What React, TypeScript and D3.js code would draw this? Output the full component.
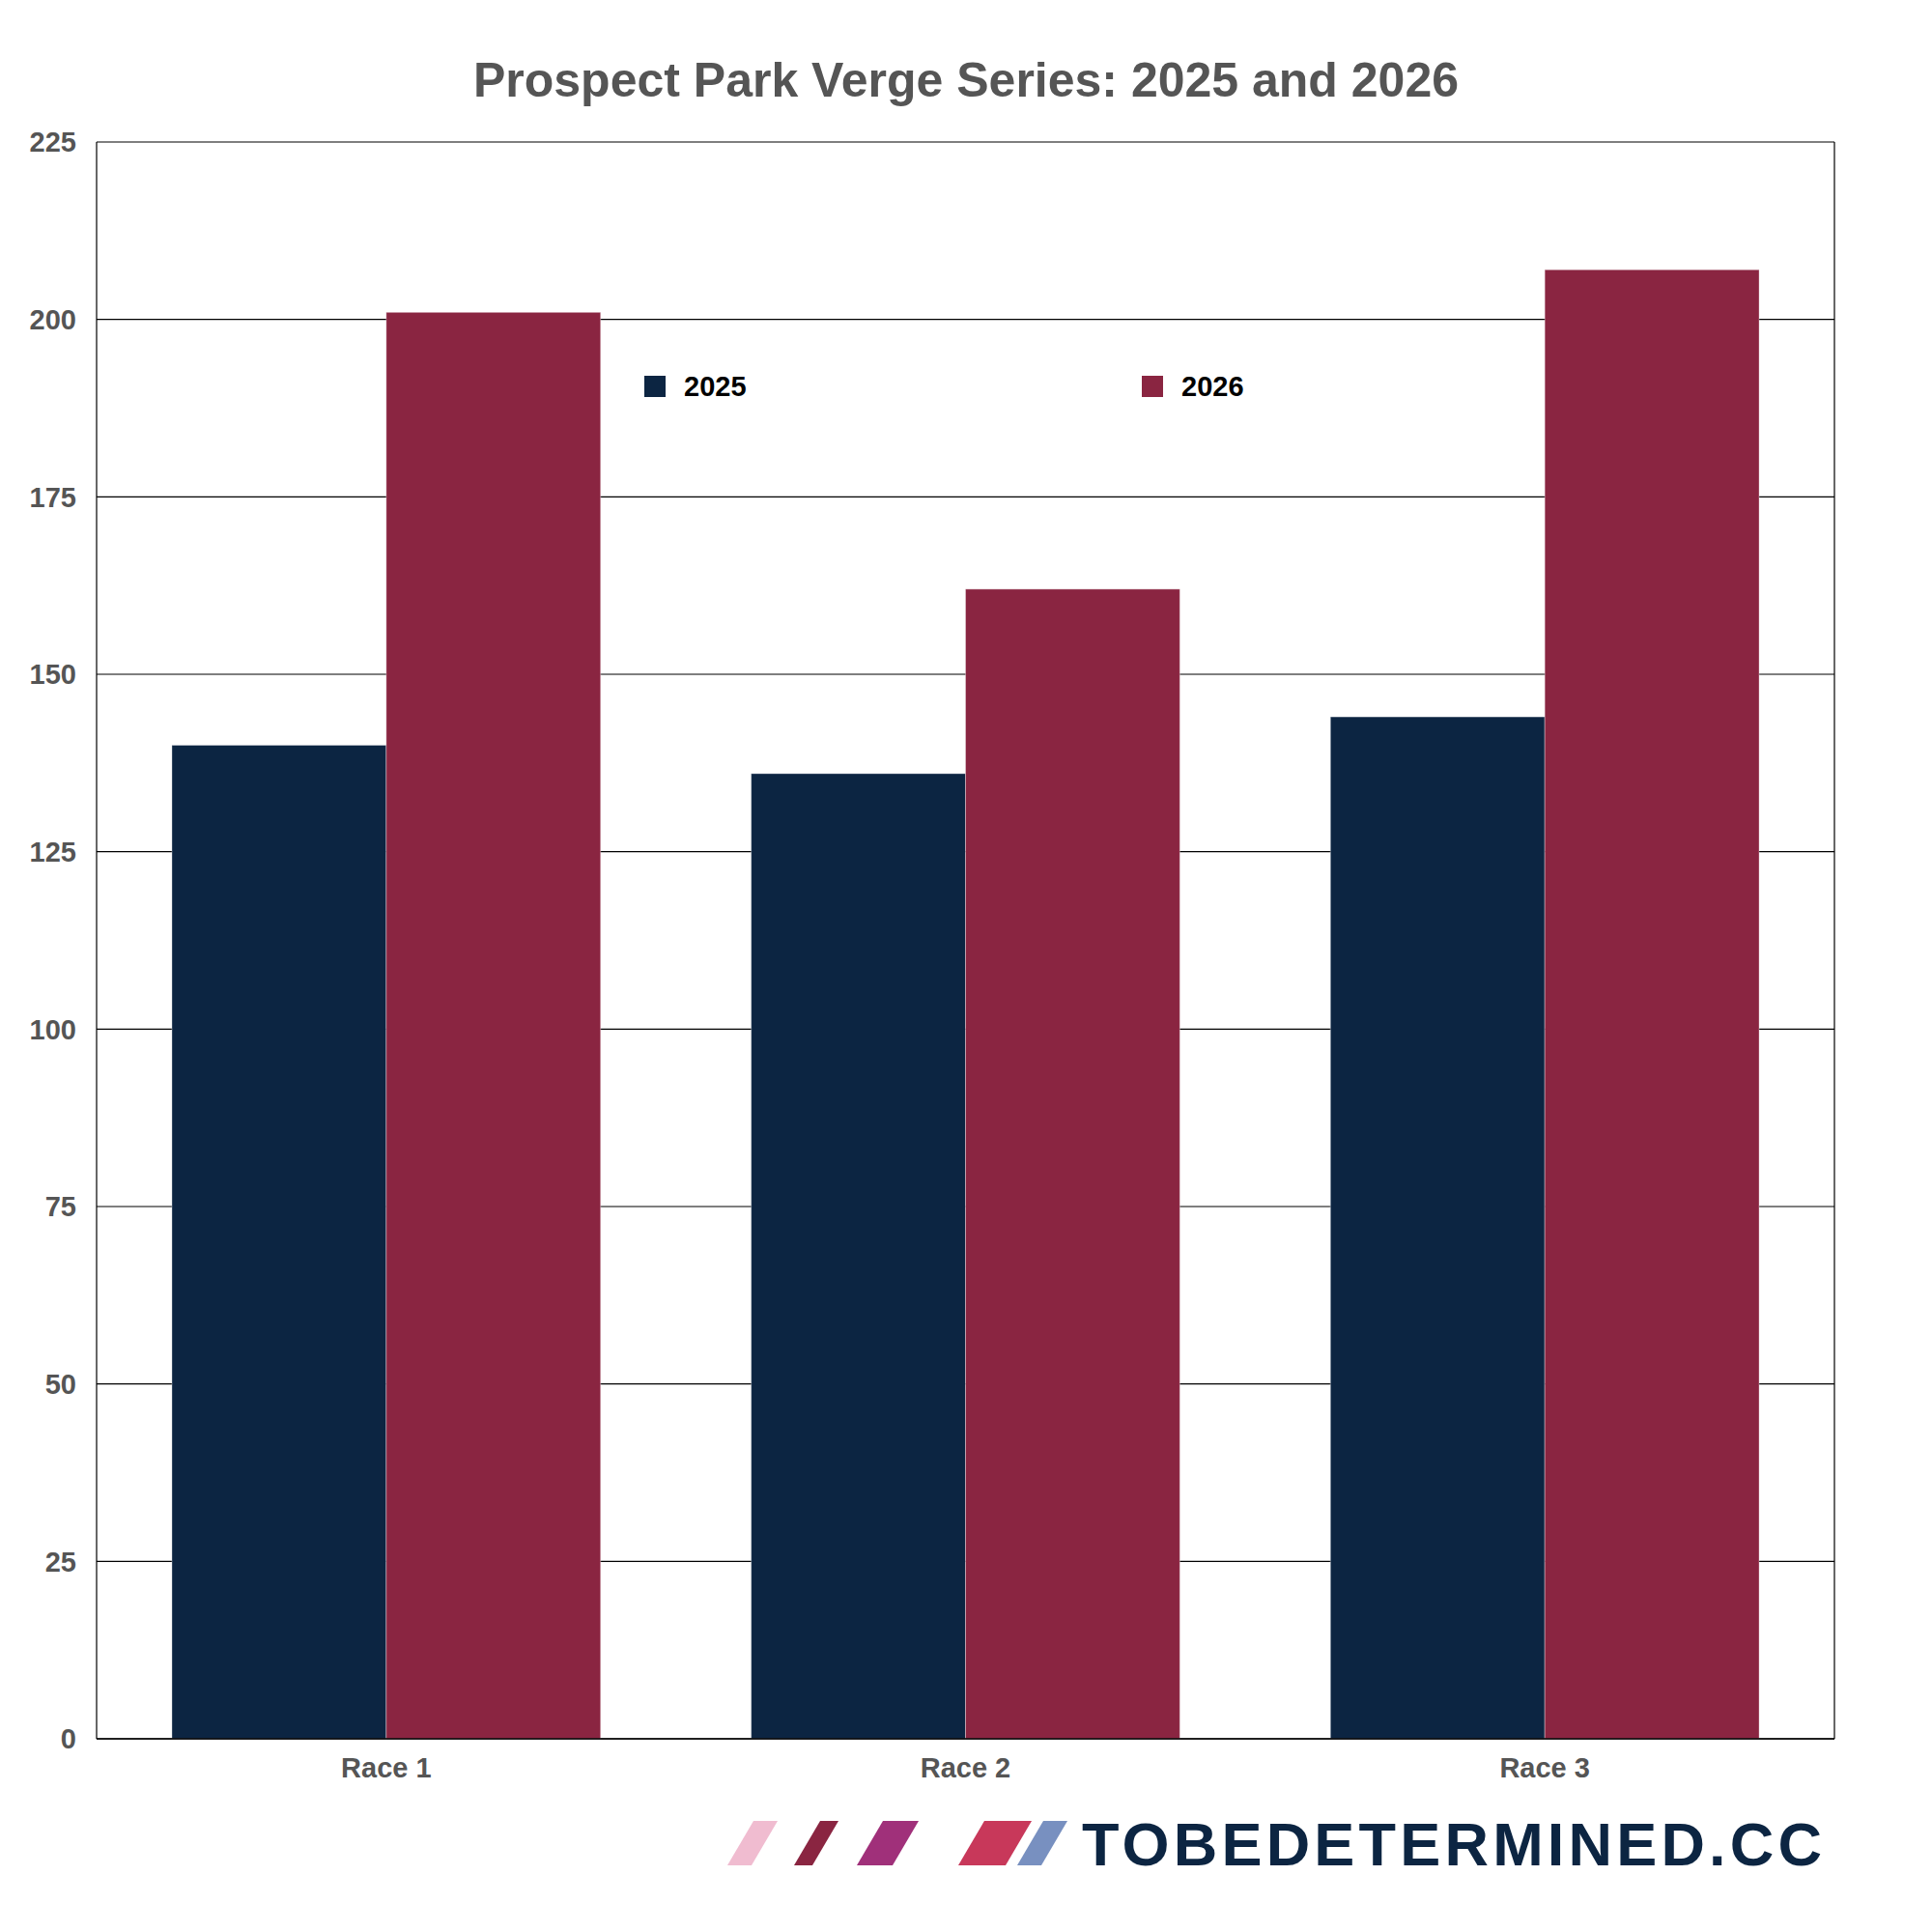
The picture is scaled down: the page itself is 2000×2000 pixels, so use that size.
import * as d3 from 'd3';

// race categories and the two seasons
const races = ['Race 1', 'Race 2', 'Race 3'];
const seasons = ['2025', '2026'];
const values2025 = [140, 136, 144];
const values2026 = [201, 162, 207];
const yTicks = [0, 25, 50, 75, 100, 125, 150, 175, 200, 225];

const seasonColors: Record<string, string> = { '2025': '#0c2542', '2026': '#8a2541' };

// logo stripes: [top-left x, top width, color]
const logoStripes: [number, number, string][] = [
  [780, 25, '#f0bcd0'],
  [849, 19, '#8a2541'],
  [914, 37, '#a0307a'],
  [1019, 49, '#c8385a'],
  [1080, 25, '#7890c0'],
];

const W = 2000;
const H = 2000;
const margin = { top: 147, right: 101, bottom: 200, left: 100 };
const font = '"Liberation Sans", Arial, Helvetica, sans-serif';

export default function App() {
  const innerW = W - margin.left - margin.right;
  const innerH = H - margin.top - margin.bottom;

  const x0 = d3.scaleBand().domain(races).range([0, innerW]).paddingInner(0.26).paddingOuter(0.13);
  const x1 = d3.scaleBand().domain(seasons).range([0, x0.bandwidth()]);
  const y = d3.scaleLinear().domain([0, 225]).range([innerH, 0]);

  const rows = races.map((r, i) => ({ race: r, '2025': values2025[i], '2026': values2026[i] }));

  return (
    <div style={{ position: 'absolute', left: 0, top: 0 }}>
      <svg width={W} height={H} style={{ display: 'block', background: '#fff' }}>
        <text
          x={1000}
          y={100}
          textAnchor="middle"
          fontFamily={font}
          fontWeight="bold"
          fontSize={50}
          fill="#555"
        >
          Prospect Park Verge Series: 2025 and 2026
        </text>

        <g transform={`translate(${margin.left},${margin.top})`}>
          {/* grid lines */}
          {yTicks.map((t) => (
            <line key={t} x1={0} x2={innerW} y1={y(t)} y2={y(t)} stroke="#000" strokeWidth={1.2} />
          ))}
          <line x1={0} x2={0} y1={0} y2={innerH} stroke="#000" strokeWidth={1.2} />
          <line x1={innerW} x2={innerW} y1={0} y2={innerH} stroke="#000" strokeWidth={1.2} />

          {/* bars */}
          {rows.map((row) => (
            <g key={row.race} transform={`translate(${x0(row.race)},0)`}>
              {seasons.map((s) => {
                const v = (row as any)[s] as number;
                return (
                  <rect
                    key={s}
                    x={x1(s)}
                    y={y(v)}
                    width={x1.bandwidth()}
                    height={innerH - y(v)}
                    fill={seasonColors[s]}
                    stroke="rgba(255,255,255,0.35)"
                    strokeWidth={1}
                  />
                );
              })}
            </g>
          ))}
          <line x1={0} x2={innerW} y1={innerH} y2={innerH} stroke="#000" strokeWidth={1.5} />

          {/* y axis labels */}
          {yTicks.map((t) => (
            <text
              key={t}
              x={-21}
              y={y(t)}
              dy="0.36em"
              textAnchor="end"
              fontFamily={font}
              fontWeight="bold"
              fontSize={29}
              fill="#555"
            >
              {t}
            </text>
          ))}

          {/* x axis labels */}
          {races.map((r) => (
            <text
              key={r}
              x={x0(r)! + x0.bandwidth() / 2}
              y={innerH + 40}
              textAnchor="middle"
              fontFamily={font}
              fontWeight="bold"
              fontSize={29}
              fill="#555"
            >
              {r}
            </text>
          ))}
        </g>

        {/* legend */}
        {seasons.map((s, i) => (
          <g key={s} transform={`translate(${667 + i * 515},389)`}>
            <rect width={22} height={22} fill={seasonColors[s]} />
            <text x={41} y={11} dy="0.36em" fontFamily={font} fontWeight="bold" fontSize={29} fill="#000">
              {s}
            </text>
          </g>
        ))}

        {/* logo */}
        {logoStripes.map(([sx, sw, c], i) => (
          <path key={i} d={`M${sx},1885 L${sx + sw},1885 L${sx + sw - 27},1931 L${sx - 27},1931 Z`} fill={c} />
        ))}
        <text
          x={1120}
          y={1931}
          fontFamily={font}
          fontWeight="bold"
          fontSize={63}
          fill="#0c2542"
          textLength={766}
          lengthAdjust="spacing"
        >
          TOBEDETERMINED.CC
        </text>
      </svg>
    </div>
  );
}
